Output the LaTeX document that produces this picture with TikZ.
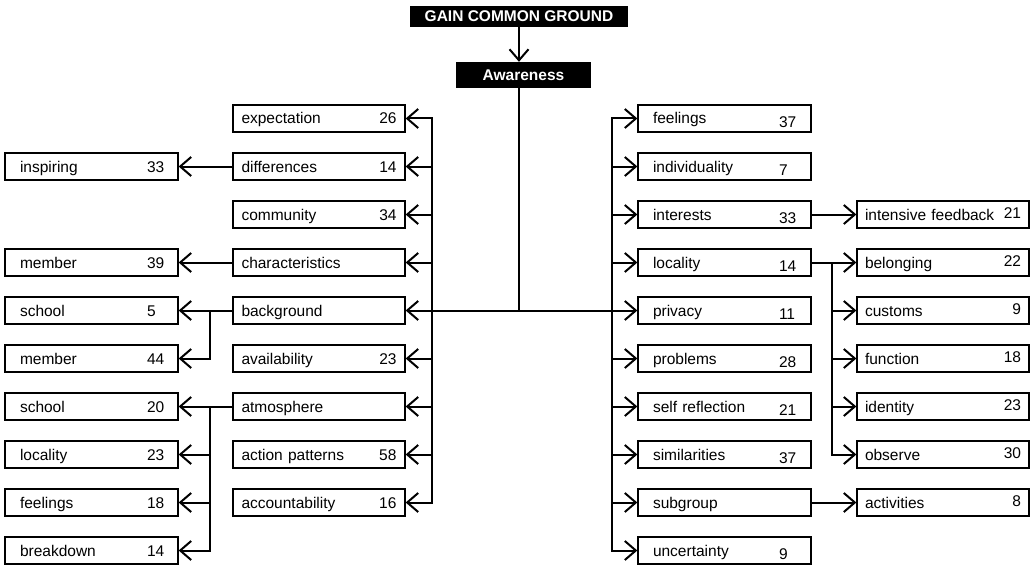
\documentclass[tikz,border=0pt]{standalone}
\usepackage{fontspec}
\setmainfont{Liberation Sans}
\usetikzlibrary{arrows.meta}

\tikzset{
  txt/.style={font=\fontsize{15.5}{18}\selectfont},
  box/.style={draw, line width=1.3pt, fill=white, txt, minimum height=27pt,
              text height=11pt, text depth=0pt, inner ysep=0pt, align=left},
  midbox/.style={box, text width=155pt, inner xsep=8.5pt},
  farleft/.style={box, text width=143pt, inner xsep=15pt},
  rightbox/.style={box, text width=143pt, inner xsep=15pt},
  farright/.style={box, text width=156pt, inner xsep=8pt},
  headbox/.style={fill=black, text=white, font=\fontsize{15.5}{18}\selectfont\bfseries,
                  text height=11pt, text depth=0pt, inner ysep=0pt},
  wire/.style={line width=2pt},
  barb/.tip={Straight Barb[length=11pt,width=19pt]},
  arr/.style={wire, -barb},
}
% label with its count set at a fixed column
\newcommand\lcount[3]{\makebox[#1][l]{#2}#3}

\begin{document}
\begin{tikzpicture}[x=1pt,y=-1pt]
\useasboundingbox (0,0) rectangle (1030,567);

% heading
\node[headbox, minimum width=218pt, minimum height=21pt] (gain) at (519,16.5) {GAIN COMMON GROUND};
\node[headbox, minimum width=135pt, minimum height=26pt] (aw) at (523.5,75) {Awareness};

% inner left column
\node[midbox] (expectation)    at (319,118.5) {expectation\hfill 26};
\node[midbox] (differences)    at (319,166.5) {differences\hfill 14};
\node[midbox] (community)      at (319,214.5) {community\hfill 34};
\node[midbox] (characteristics)at (319,262.5) {characteristics\hfill};
\node[midbox] (background)     at (319,310.5) {background\hfill};
\node[midbox] (availability)   at (319,358.5) {availability\hfill 23};
\node[midbox] (atmosphere)     at (319,406.5) {atmosphere\hfill};
\node[midbox] (actionpatterns) at (319,454.5) {action patterns\hfill 58};
\node[midbox] (accountability) at (319,502.5) {accountability\hfill 16};

% outer left column
\node[farleft] (inspiring) at (91.5,166.5) {\lcount{127pt}{inspiring}{33}};
\node[farleft] (memberA)   at (91.5,262.5) {\lcount{127pt}{member}{39}};
\node[farleft] (schoolA)   at (91.5,310.5) {\lcount{127pt}{school}{5}};
\node[farleft] (memberB)   at (91.5,358.5) {\lcount{127pt}{member}{44}};
\node[farleft] (schoolB)   at (91.5,406.5) {\lcount{127pt}{school}{20}};
\node[farleft] (localityL) at (91.5,454.5) {\lcount{127pt}{locality}{23}};
\node[farleft] (feelingsL) at (91.5,502.5) {\lcount{127pt}{feelings}{18}};
\node[farleft] (breakdown) at (91.5,550.5) {\lcount{127pt}{breakdown}{14}};

% inner right column
\newcommand\rnum[1]{\raisebox{-3.5pt}[0pt][0pt]{#1}}
\node[rightbox] (rFeel) at (724.5,118.5) {\lcount{126pt}{feelings}{\rnum{37}}};
\node[rightbox] (rInd)  at (724.5,166.5) {\lcount{126pt}{individuality}{\rnum{7}}};
\node[rightbox] (rInt)  at (724.5,214.5) {\lcount{126pt}{interests}{\rnum{33}}};
\node[rightbox] (rLoc)  at (724.5,262.5) {\lcount{126pt}{locality}{\rnum{14}}};
\node[rightbox] (rPriv) at (724.5,310.5) {\lcount{126pt}{privacy}{\rnum{11}}};
\node[rightbox] (rProb) at (724.5,358.5) {\lcount{126pt}{problems}{\rnum{28}}};
\node[rightbox] (rSelf) at (724.5,406.5) {\lcount{126pt}{self reflection}{\rnum{21}}};
\node[rightbox] (rSim)  at (724.5,454.5) {\lcount{126pt}{similarities}{\rnum{37}}};
\node[rightbox] (rSub)  at (724.5,502.5) {\lcount{126pt}{subgroup}{}};
\node[rightbox] (rUnc)  at (724.5,550.5) {\lcount{126pt}{uncertainty}{\rnum{9}}};

% outer right column
\newcommand\fnum[1]{\raisebox{1.5pt}[0pt][0pt]{#1}}
\node[farright] (frFeed) at (943,214.5) {intensive feedback\hfill\fnum{21}};
\node[farright] (frBel)  at (943,262.5) {belonging\hfill\fnum{22}};
\node[farright] (frCus)  at (943,310.5) {customs\hfill\fnum{9}};
\node[farright] (frFun)  at (943,358.5) {function\hfill\fnum{18}};
\node[farright] (frId)   at (943,406.5) {identity\hfill\fnum{23}};
\node[farright] (frObs)  at (943,454.5) {observe\hfill\fnum{30}};
\node[farright] (frAct)  at (943,502.5) {activities\hfill\fnum{8}};

% bus positions
\coordinate (lbus) at (432,0);
\coordinate (rbus) at (612,0);
\coordinate (lb2)  at (210,0);
\coordinate (rb2)  at (832,0);

% trunk
\draw[arr] (gain.south) -- (gain.south |- aw.north);
\draw[wire] (gain.south |- aw.south) -- (gain.south |- background.east);
\draw[wire, barb-barb] (background.east) -- (rPriv.west);

% left bus
\draw[arr] (background.east -| lbus) |- (expectation.east);
\draw[arr] (background.east -| lbus) |- (accountability.east);
\foreach \n in {differences,community,characteristics,availability,atmosphere,actionpatterns}
  \draw[arr] (\n.east -| lbus) -- (\n.east);

% right bus
\draw[arr] (rPriv.west -| rbus) |- (rFeel.west);
\draw[arr] (rPriv.west -| rbus) |- (rUnc.west);
\foreach \n in {rInd,rInt,rLoc,rProb,rSelf,rSim,rSub}
  \draw[arr] (\n.west -| rbus) -- (\n.west);

% outer left branches
\draw[arr] (differences.west) -- (inspiring.east);
\draw[arr] (characteristics.west) -- (memberA.east);
\draw[arr] (background.west) -- (schoolA.east);
\draw[arr] (background.west -| lb2) |- (memberB.east);
\draw[arr] (atmosphere.west) -- (schoolB.east);
\draw[arr] (atmosphere.west -| lb2) |- (breakdown.east);
\draw[arr] (localityL.east -| lb2) -- (localityL.east);
\draw[arr] (feelingsL.east -| lb2) -- (feelingsL.east);

% outer right branches
\draw[arr] (rInt.east) -- (frFeed.west);
\draw[arr] (rLoc.east) -- (frBel.west);
\draw[arr] (rLoc.east -| rb2) |- (frObs.west);
\foreach \n in {frCus,frFun,frId}
  \draw[arr] (\n.west -| rb2) -- (\n.west);
\draw[arr] (rSub.east) -- (frAct.west);
\end{tikzpicture}
\end{document}
